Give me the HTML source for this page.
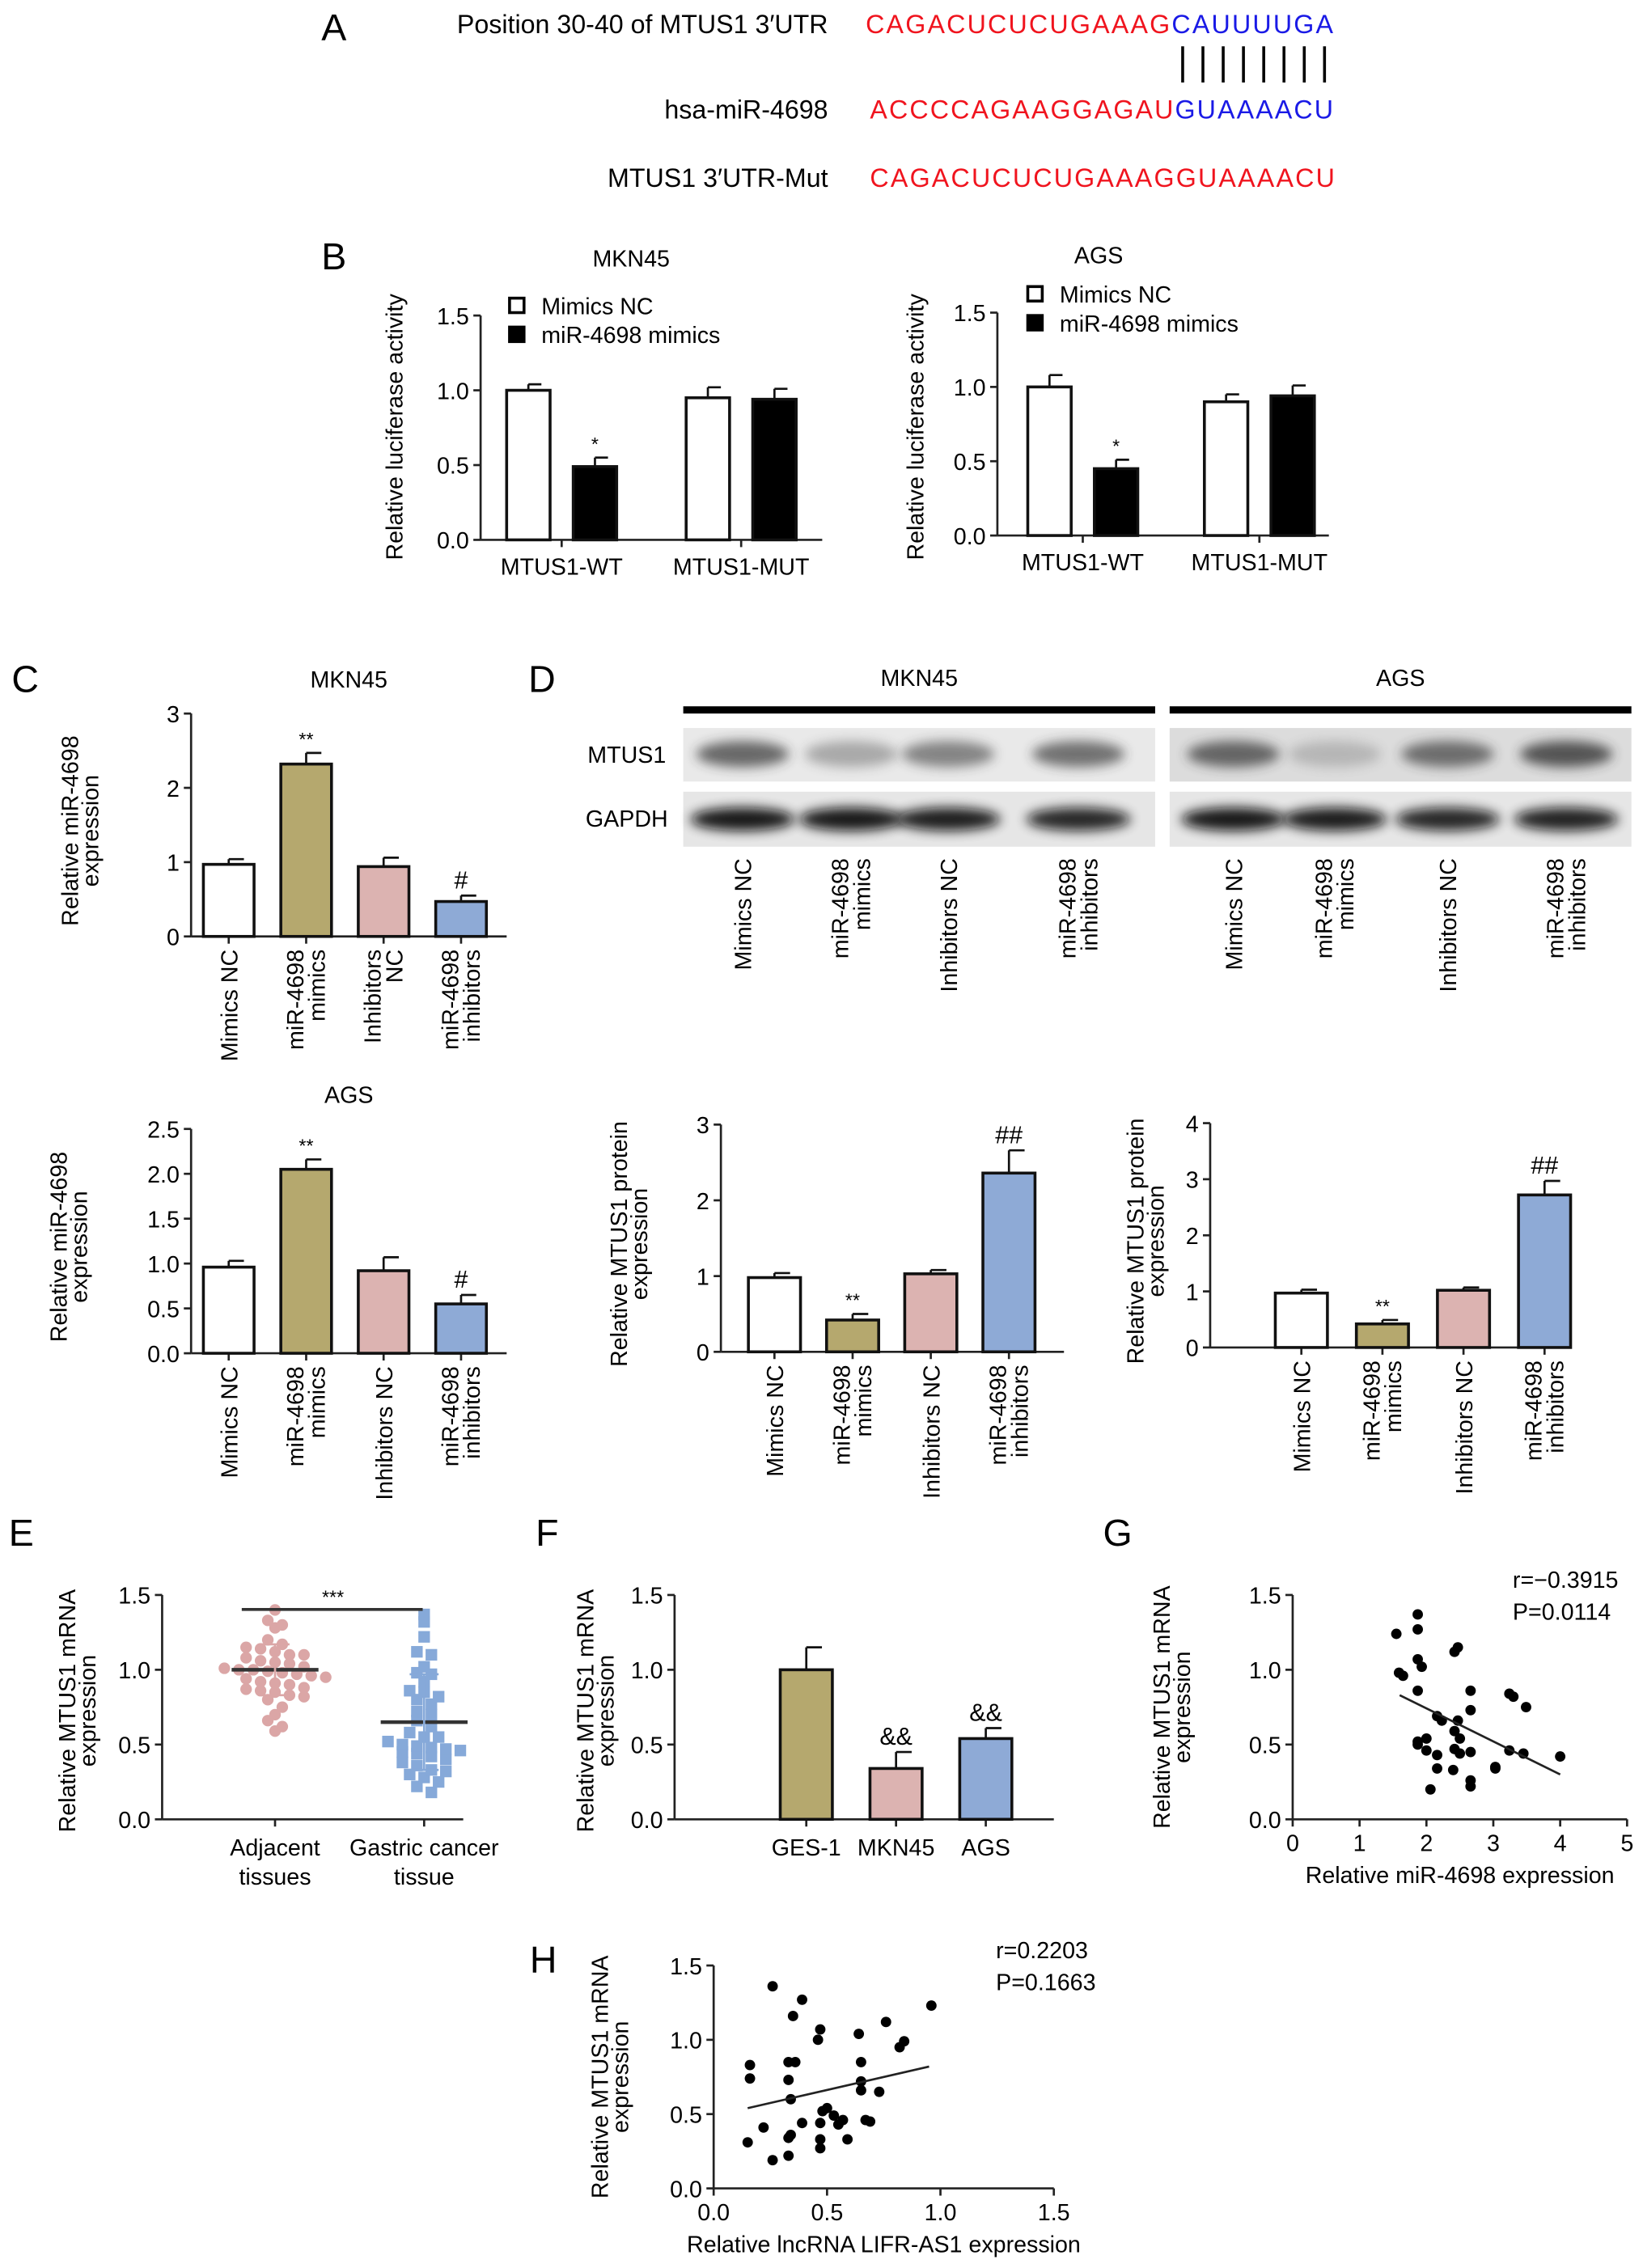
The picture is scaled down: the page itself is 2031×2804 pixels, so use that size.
<!DOCTYPE html>
<html><head><meta charset="utf-8"><style>
html,body{margin:0;padding:0;background:#fff;}
svg{display:block;font-family:"Liberation Sans",Arial,sans-serif;}
</style></head><body>
<svg id="fig" width="2031" height="2804" viewBox="0 0 1135 1567" xmlns="http://www.w3.org/2000/svg">
<defs><filter id="blur" x="-50%" y="-50%" width="200%" height="200%"><feGaussianBlur stdDeviation="4"/></filter></defs>
<g font-size="18">
<text x="222" y="28" font-size="26">A</text>
<text x="572" y="23" text-anchor="end">Position 30-40 of MTUS1 3′UTR</text>
<text x="598" y="23" textLength="323"><tspan fill="#f0141e">CAGACUCUCUGAAAG</tspan><tspan fill="#1a1ae6">CAUUUUGA</tspan></text>
<g stroke="#000" stroke-width="2">
<line x1="817" y1="32" x2="817" y2="57"/><line x1="831" y1="32" x2="831" y2="57"/><line x1="845" y1="32" x2="845" y2="57"/><line x1="859" y1="32" x2="859" y2="57"/><line x1="873" y1="32" x2="873" y2="57"/><line x1="887" y1="32" x2="887" y2="57"/><line x1="901" y1="32" x2="901" y2="57"/><line x1="915" y1="32" x2="915" y2="57"/></g>
<text x="572" y="82" text-anchor="end">hsa-miR-4698</text>
<text x="601" y="82" textLength="320"><tspan fill="#f0141e">ACCCCAGAAGGAGAU</tspan><tspan fill="#1a1ae6">GUAAAACU</tspan></text>
<text x="572" y="129" text-anchor="end">MTUS1  3′UTR-Mut</text>
<text x="601" y="129" fill="#f0141e" textLength="321">CAGACUCUCUGAAAGGUAAAACU</text>
</g>
<text x="222" y="186" font-size="26">B</text>
<text x="8" y="478" font-size="26">C</text>
<text x="365" y="478" font-size="26">D</text>
<text x="6" y="1068" font-size="26">E</text>
<text x="370" y="1068" font-size="26">F</text>
<text x="762" y="1068" font-size="26">G</text>
<text x="366" y="1363" font-size="26">H</text>
<g id="dyn"></g>
</svg>
<script>
// ---------- DATA ----------
const bCats = ["MTUS1-WT","MTUS1-MUT"];
const bMknNC = [1.0, 0.95];
const bMknNCErr = [0.04, 0.07];
const bMknMim = [0.49, 0.94];
const bMknMimErr = [0.06, 0.07];
const bAgsNC = [1.0, 0.90];
const bAgsNCErr = [0.08, 0.05];
const bAgsMim = [0.45, 0.94];
const bAgsMimErr = [0.06, 0.07];
const bTicks = ["0.0","0.5","1.0","1.5"];

const groupCats = ["Mimics NC","miR-4698|mimics","Inhibitors|NC","miR-4698|inhibitors"];
const groupCats2 = ["Mimics NC","miR-4698|mimics","Inhibitors NC","miR-4698|inhibitors"];
const cMknVals = [0.97, 2.32, 0.94, 0.47];
const cMknErr = [0.07, 0.15, 0.12, 0.08];
const cMknSig = ["","**","","#"];
const cMknTicks = ["0","1","2","3"];
const cAgsVals = [0.96, 2.05, 0.92, 0.55];
const cAgsErr = [0.07, 0.11, 0.15, 0.10];
const cAgsSig = ["","**","","#"];
const cAgsTicks = ["0.0","0.5","1.0","1.5","2.0","2.5"];
const dMknVals = [0.98, 0.42, 1.03, 2.36];
const dMknErr = [0.06, 0.08, 0.05, 0.30];
const dMknSig = ["","**","","##"];
const dMknTicks = ["0","1","2","3"];
const dAgsVals = [0.97, 0.42, 1.02, 2.72];
const dAgsErr = [0.06, 0.07, 0.05, 0.25];
const dAgsSig = ["","**","","##"];
const dAgsTicks = ["0","1","2","3","4"];

const mtusMkn = [0.7, 0.35, 0.55, 0.65];
const mtusAgs = [0.7, 0.22, 0.65, 0.8];
const gapdhMkn = [0.95, 0.95, 0.92, 0.88];
const gapdhAgs = [0.95, 0.93, 0.88, 0.9];

const eAdjacent = [1.40,1.33,1.30,1.28,1.20,1.17,1.15,1.14,1.12,1.10,1.10,1.08,1.06,1.05,1.04,1.02,1.01,1.00,1.00,0.99,0.98,0.97,0.96,0.95,0.94,0.92,0.91,0.90,0.88,0.87,0.86,0.85,0.83,0.82,0.80,0.75,0.70,0.66,0.62,0.59];
const eCancer = [1.37,1.32,1.22,1.12,1.10,1.02,0.98,0.97,0.92,0.86,0.85,0.82,0.80,0.77,0.72,0.70,0.66,0.62,0.58,0.55,0.55,0.52,0.50,0.49,0.48,0.47,0.46,0.45,0.44,0.42,0.40,0.38,0.36,0.33,0.32,0.30,0.28,0.25,0.22,0.18];
const eMeans = [1.0, 0.65];
const eSD = [0.17, 0.32];
const mrnaTicks = ["0.0","0.5","1.0","1.5"];

const fCats = ["GES-1","MKN45","AGS"];
const fVals = [1.0, 0.34, 0.54];
const fErr = [0.15, 0.11, 0.07];
const fSig = ["","&&","&&"];

const gX = [1.55,1.87,1.87,1.59,1.65,1.87,1.93,1.87,2.47,2.42,2.66,2.66,3.24,3.30,3.49,2.16,2.23,2.47,2.42,2.50,1.87,2.00,2.00,2.16,2.42,2.50,2.66,3.24,3.45,4.00,2.16,2.40,2.66,2.66,2.06,3.03,3.03,1.87];
const gY = [1.24,1.37,1.27,0.98,0.96,1.07,1.02,0.86,1.15,1.12,0.86,0.73,0.84,0.82,0.75,0.69,0.66,0.66,0.59,0.54,0.52,0.54,0.46,0.43,0.47,0.44,0.45,0.46,0.44,0.42,0.34,0.33,0.26,0.22,0.20,0.35,0.34,0.50];
const gLine = [[1.6,0.83],[4.0,0.30]];
const gXTicks = ["0","1","2","3","4","5"];

const hX = [0.26,0.39,0.35,0.96,0.47,0.46,0.64,0.76,0.84,0.82,0.16,0.16,0.33,0.36,0.33,0.65,0.65,0.65,0.73,0.34,0.22,0.39,0.34,0.33,0.47,0.50,0.53,0.55,0.57,0.59,0.47,0.47,0.67,0.69,0.15,0.26,0.33,0.48];
const hY = [1.36,1.27,1.16,1.23,1.07,1.00,1.04,1.12,0.99,0.95,0.83,0.74,0.85,0.85,0.73,0.85,0.72,0.66,0.65,0.60,0.41,0.44,0.36,0.34,0.44,0.54,0.49,0.43,0.46,0.33,0.33,0.27,0.46,0.45,0.31,0.19,0.22,0.52];
const hLine = [[0.15,0.54],[0.95,0.82]];
const hXTicks = ["0.0","0.5","1.0","1.5"];

const COLORS = ["#ffffff","#b5a86e","#dcb3b1","#8eaad6"];

// ---------- HELPERS ----------
const NS = "http://www.w3.org/2000/svg";
const root = document.getElementById('dyn');
function mk(tag, attrs, parent) {
  const n = document.createElementNS(NS, tag);
  for (const k in attrs) n.setAttribute(k, attrs[k]);
  (parent || root).appendChild(n);
  return n;
}
function txt(s, attrs, parent) { const n = mk('text', attrs, parent); n.textContent = s; return n; }
function linScale(d0, d1, r0, r1) { return v => r0 + (v - d0) / (d1 - d0) * (r1 - r0); }

function yAxis(g, ax, y0, yTop, ticks, ymax) {
  const ys = linScale(0, ymax, y0, yTop);
  const a = mk('line', {x1: ax, y1: y0, x2: ax, y2: yTop, stroke: '#222', 'stroke-width': 1.5}, g);
  
  
  ticks.forEach((t, i) => {
    const v = parseFloat(t);
    mk('line', {x1: ax - 5, y1: ys(v), x2: ax, y2: ys(v), stroke: '#222', 'stroke-width': 1.5}, g);
    const tl = txt(t, {x: ax - 8, y: ys(v) + 6, 'text-anchor': 'end', 'font-size': 16}, g);
    
    
  });
  return ys;
}
function yTitle(g, lines, x, yc) {
  lines.forEach((l, i) => {
    const t = txt(l, {x: x + i * 14, y: yc, 'text-anchor': 'middle', 'font-size': 16, transform: `rotate(-90 ${x + i * 14} ${yc})`}, g);
    
    
  });
}
function bar(g, cx, w, ys, v, e, color, sig) {
  const capW = w * 0.3;
  const el = mk('line', {x1: cx, y1: ys(v), x2: cx, y2: ys(v + e), stroke: '#111', 'stroke-width': 1.5}, g);
  
  
  mk('line', {x1: cx, y1: ys(v + e), x2: cx + capW, y2: ys(v + e), stroke: '#111', 'stroke-width': 1.5}, g);
  const r = mk('rect', {x: cx - w / 2, y: ys(v), width: w, height: ys(0) - ys(v), fill: color, stroke: '#111', 'stroke-width': 2}, g);
  
  
  if (sig) {
    const s = txt(sig, {x: cx, y: ys(v + e) - 5, 'text-anchor': 'middle', 'font-size': sig.indexOf('*') >= 0 ? 13 : 17}, g);
    
    
  }
}
function rotLabels(g, cats, cx0, step, top) {
  cats.forEach((c, i) => {
    const parts = c.split('|');
    const cx = cx0 + i * step;
    parts.forEach((p, j) => {
      const x = parts.length === 1 ? cx + 6 : cx - 2 + j * 15;
      const t = txt(p, {x: x, y: top, 'text-anchor': 'end', 'font-size': 16, transform: `rotate(-90 ${x} ${top})`}, g);
      
      
    });
  });
}
function groupBar(name, cfg, vals, errs, sig, ticks, cats, titleLines, titleX, chartTitle) {
  const g = mk('g', {});
  
  
  const ys = yAxis(g, cfg.ax, cfg.y0, cfg.yTop, ticks, cfg.ymax);
  const xa = mk('line', {x1: cfg.ax, y1: cfg.y0, x2: cfg.xEnd, y2: cfg.y0, stroke: '#222', 'stroke-width': 1.5}, g);
  
  
  vals.forEach((v, i) => {
    const cx = cfg.c0 + i * cfg.step;
    mk('line', {x1: cx, y1: cfg.y0, x2: cx, y2: cfg.y0 + 5, stroke: '#222', 'stroke-width': 1.5}, g);
    bar(g, cx, cfg.w, ys, v, errs[i], COLORS[i], sig[i]);
  });
  rotLabels(g, cats, cfg.c0, cfg.step, cfg.y0 + 9);
  yTitle(g, titleLines, titleX, (cfg.y0 + cfg.yTop) / 2 + 4);
  if (chartTitle) {
    const t = txt(chartTitle, {x: (cfg.ax + cfg.xEnd) / 2, y: cfg.yTop - 18, 'text-anchor': 'middle', 'font-size': 16}, g);
    
    
  }
}

// ---------- PANEL B ----------
function panelB(name, ax, y0, yTop, xEnd, centers, nc, ncE, mm, mmE, title, titleX, legX, legY, ylabX) {
  const g = mk('g', {});
  
  
  const ys = yAxis(g, ax, y0, yTop, bTicks, 1.5);
  const xa = mk('line', {x1: ax, y1: y0, x2: xEnd, y2: y0, stroke: '#222', 'stroke-width': 1.5}, g);
  
  
  bCats.forEach((c, i) => {
    const c1 = centers[i * 2], c2 = centers[i * 2 + 1];
    const mid = (c1 + c2) / 2;
    mk('line', {x1: mid, y1: y0, x2: mid, y2: y0 + 5, stroke: '#222', 'stroke-width': 1.5}, g);
    bar(g, c1, 30, ys, nc[i], ncE[i], '#fff', '');
    bar(g, c2, 30, ys, mm[i], mmE[i], '#000', i === 0 ? '*' : '');
    const t = txt(c, {x: mid, y: y0 + 24, 'text-anchor': 'middle', 'font-size': 16}, g);
    
    
  });
  const tt = txt(title, {x: titleX, y: yTop - 34, 'text-anchor': 'middle', 'font-size': 16}, g);
  
  
  const l1 = mk('rect', {x: legX, y: legY - 5, width: 10, height: 10, fill: '#fff', stroke: '#000', 'stroke-width': 2}, g);
  
  
  const lt1 = txt('Mimics NC', {x: legX + 22, y: legY + 6, 'font-size': 16}, g);
  
  
  const l2 = mk('rect', {x: legX, y: legY + 15, width: 10, height: 10, fill: '#000', stroke: '#000', 'stroke-width': 2}, g);
  
  
  const lt2 = txt('miR-4698 mimics', {x: legX + 22, y: legY + 26, 'font-size': 16}, g);
  
  
  yTitle(g, ['Relative luciferase activity'], ylabX, 295);
}
panelB('chart-b-mkn45', 332, 373, 218, 568, [365, 411, 489, 535], bMknNC, bMknNCErr, bMknMim, bMknMimErr, 'MKN45', 436, 352, 211, 278);
panelB('chart-b-ags', 689, 370, 216, 918, [725, 771, 847, 893], bAgsNC, bAgsNCErr, bAgsMim, bAgsMimErr, 'AGS', 759, 710, 203, 638);

// ---------- PANEL C / D charts ----------
groupBar('chart-c-mkn45', {ax: 132, y0: 647, yTop: 493, ymax: 3, xEnd: 350, c0: 158, step: 53.5, w: 35}, cMknVals, cMknErr, cMknSig, cMknTicks, groupCats, ['Relative miR-4698', 'expression'], 54, 'MKN45');
groupBar('chart-c-ags', {ax: 132, y0: 935, yTop: 780, ymax: 2.5, xEnd: 350, c0: 158, step: 53.5, w: 35}, cAgsVals, cAgsErr, cAgsSig, cAgsTicks, groupCats2, ['Relative miR-4698', 'expression'], 46, 'AGS');
groupBar('chart-d-mkn45', {ax: 498, y0: 934, yTop: 777, ymax: 3, xEnd: 735, c0: 535, step: 54, w: 36}, dMknVals, dMknErr, dMknSig, dMknTicks, groupCats2, ['Relative MTUS1 protein', 'expression'], 433, null);
groupBar('chart-d-ags', {ax: 836, y0: 931, yTop: 776, ymax: 4, xEnd: 1078, c0: 899, step: 56, w: 36}, dAgsVals, dAgsErr, dAgsSig, dAgsTicks, groupCats2, ['Relative MTUS1 protein', 'expression'], 790, null);

// ---------- WESTERN BLOT ----------
(function () {
  const g = mk('g', {});
  
  
  const blocks = [{x0: 472, x1: 798, lanes: [513, 588, 655, 745], mt: mtusMkn, gp: gapdhMkn, title: 'MKN45', bg: '#e9e9e9'},
                  {x0: 808, x1: 1127, lanes: [852, 922, 1000, 1082], mt: mtusAgs, gp: gapdhAgs, title: 'AGS', bg: '#dcdcdc'}];
  blocks.forEach(b => {
    const hb = mk('rect', {x: b.x0, y: 488, width: b.x1 - b.x0, height: 5, fill: '#000'}, g);
    
    
    const t = txt(b.title, {x: (b.x0 + b.x1) / 2, y: 474, 'text-anchor': 'middle', 'font-size': 16}, g);
    
    
    const r1 = mk('rect', {x: b.x0, y: 503, width: b.x1 - b.x0, height: 37, fill: b.bg}, g);
    
    
    const r2 = mk('rect', {x: b.x0, y: 547, width: b.x1 - b.x0, height: 38, fill: '#e6e6e6'}, g);
    
    
    b.lanes.forEach((lx, i) => {
      const e1 = mk('ellipse', {cx: lx, cy: 521, rx: 32, ry: 9, fill: '#333', opacity: b.mt[i], filter: 'url(#blur)'}, g);
      
      
      const e2 = mk('ellipse', {cx: lx, cy: 566, rx: 36, ry: 8, fill: '#111', opacity: b.gp[i], filter: 'url(#blur)'}, g);
      
      
    });
    b.lanes.forEach((lx, i) => {
      const parts = groupCats2[i].split('|');
      parts.forEach((p, j) => {
        const x = parts.length === 1 ? lx + 6 : lx - 2 + j * 15;
        const t = txt(p, {x: x, y: 593, 'text-anchor': 'end', 'font-size': 16, transform: `rotate(-90 ${x} 593)`}, g);
        
        
      });
    });
  });
  const m = txt('MTUS1', {x: 433, y: 527, 'text-anchor': 'middle', 'font-size': 16}, g);
  
  
  const gp = txt('GAPDH', {x: 433, y: 571, 'text-anchor': 'middle', 'font-size': 16}, g);
  
  
})();

// ---------- PANEL E ----------
(function () {
  const g = mk('g', {});
  
  
  const ys = yAxis(g, 112, 1257, 1102, mrnaTicks, 1.5);
  const xa = mk('line', {x1: 112, y1: 1257, x2: 320, y2: 1257, stroke: '#222', 'stroke-width': 1.5}, g);
  
  
  const groups = [eAdjacent, eCancer];
  const centers = [190, 293];
  const cols = ['#dba6a6', '#86a9d9'];
  const names = [['Adjacent', 'tissues'], ['Gastric cancer', 'tissue']];
  groups.forEach((vals, gi) => {
    const cx = centers[gi];
    mk('line', {x1: cx, y1: 1257, x2: cx, y2: 1262, stroke: '#222', 'stroke-width': 1.5}, g);
    const bins = {};
    vals.forEach(v => { const k = Math.round(v / 0.07); (bins[k] = bins[k] || []).push(v); });
    Object.keys(bins).forEach(k => {
      const arr = bins[k];
      arr.forEach((v, j) => {
        const off = (j - (arr.length - 1) / 2) * 10;
        let p;
        if (gi === 0) p = mk('circle', {cx: cx + off, cy: ys(v), r: 4, fill: cols[gi]}, g);
        else p = mk('rect', {x: cx + off - 4, y: ys(v) - 4, width: 8, height: 8, fill: cols[gi]}, g);
        
        
      });
    });
    const ml = mk('line', {x1: cx - 30, y1: ys(eMeans[gi]), x2: cx + 30, y2: ys(eMeans[gi]), stroke: '#333', 'stroke-width': 2.5}, g);
    
    
    const sd = mk('line', {x1: cx, y1: ys(eMeans[gi] - eSD[gi]), x2: cx, y2: ys(eMeans[gi] + eSD[gi]), stroke: cols[gi], 'stroke-width': 1.5}, g);
    
    
    [eMeans[gi] - eSD[gi], eMeans[gi] + eSD[gi]].forEach(v => mk('line', {x1: cx - 10, y1: ys(v), x2: cx + 10, y2: ys(v), stroke: cols[gi], 'stroke-width': 1.5}, g));
    names[gi].forEach((n, j) => {
      const t = txt(n, {x: cx, y: 1282 + j * 20, 'text-anchor': 'middle', 'font-size': 16}, g);
      
      
    });
  });
  const sl = mk('line', {x1: 167, y1: 1112, x2: 292, y2: 1112, stroke: '#333', 'stroke-width': 2}, g);
  
  
  const st = txt('***', {x: 230, y: 1108, 'text-anchor': 'middle', 'font-size': 13}, g);
  
  
  yTitle(g, ['Relative MTUS1 mRNA', 'expression'], 52, 1182);
})();

// ---------- PANEL F ----------
(function () {
  const g = mk('g', {});
  
  
  const ys = yAxis(g, 466, 1257, 1102, mrnaTicks, 1.5);
  const xa = mk('line', {x1: 466, y1: 1257, x2: 728, y2: 1257, stroke: '#222', 'stroke-width': 1.5}, g);
  
  
  fVals.forEach((v, i) => {
    const cx = 557 + i * 62;
    mk('line', {x1: cx, y1: 1257, x2: cx, y2: 1262, stroke: '#222', 'stroke-width': 1.5}, g);
    bar(g, cx, 36, ys, v, fErr[i], COLORS[i + 1], fSig[i]);
    const t = txt(fCats[i], {x: cx, y: 1282, 'text-anchor': 'middle', 'font-size': 16}, g);
    
    
  });
  yTitle(g, ['Relative MTUS1 mRNA', 'expression'], 410, 1182);
})();

// ---------- SCATTER G / H ----------
function scatter(name, cfg, xs, yv, line, xTicks, xTitle, rText, pText) {
  const g = mk('g', {});
  
  
  const ys = yAxis(g, cfg.ax, cfg.y0, cfg.yTop, mrnaTicks, 1.5);
  const xsc = linScale(0, cfg.xmax, cfg.ax, cfg.xEnd);
  const xa = mk('line', {x1: cfg.ax, y1: cfg.y0, x2: cfg.xEnd, y2: cfg.y0, stroke: '#222', 'stroke-width': 1.5}, g);
  
  
  xTicks.forEach(t => {
    const x = xsc(parseFloat(t));
    mk('line', {x1: x, y1: cfg.y0, x2: x, y2: cfg.y0 + 5, stroke: '#222', 'stroke-width': 1.5}, g);
    const tl = txt(t, {x: x, y: cfg.y0 + 22, 'text-anchor': 'middle', 'font-size': 16}, g);
    
    
  });
  xs.forEach((x, i) => {
    const c = mk('circle', {cx: xsc(x), cy: ys(yv[i]), r: 3.6, fill: '#000'}, g);
    
    
  });
  const rl = mk('line', {x1: xsc(line[0][0]), y1: ys(line[0][1]), x2: xsc(line[1][0]), y2: ys(line[1][1]), stroke: '#222', 'stroke-width': 1.5}, g);
  
  
  const xt = txt(xTitle, {x: (cfg.ax + cfg.xEnd) / 2, y: cfg.y0 + 44, 'text-anchor': 'middle', 'font-size': 16}, g);
  
  
  const r = txt(rText, {x: cfg.statX, y: cfg.yTop - 5, 'font-size': 16}, g);
  
  
  const p = txt(pText, {x: cfg.statX, y: cfg.yTop + 17, 'font-size': 16}, g);
  
  
  yTitle(g, ['Relative MTUS1 mRNA', 'expression'], cfg.ylabX, (cfg.y0 + cfg.yTop) / 2);
}
scatter('chart-g', {ax: 893, y0: 1257, yTop: 1102, xEnd: 1124, xmax: 5, statX: 1045, ylabX: 808}, gX, gY, gLine, gXTicks, 'Relative miR-4698 expression', 'r=−0.3915', 'P=0.0114');
scatter('chart-h', {ax: 493, y0: 1512, yTop: 1358, xEnd: 728, xmax: 1.5, statX: 688, ylabX: 420}, hX, hY, hLine, hXTicks, 'Relative lncRNA LIFR-AS1 expression', 'r=0.2203', 'P=0.1663');
</script>
</body></html>
